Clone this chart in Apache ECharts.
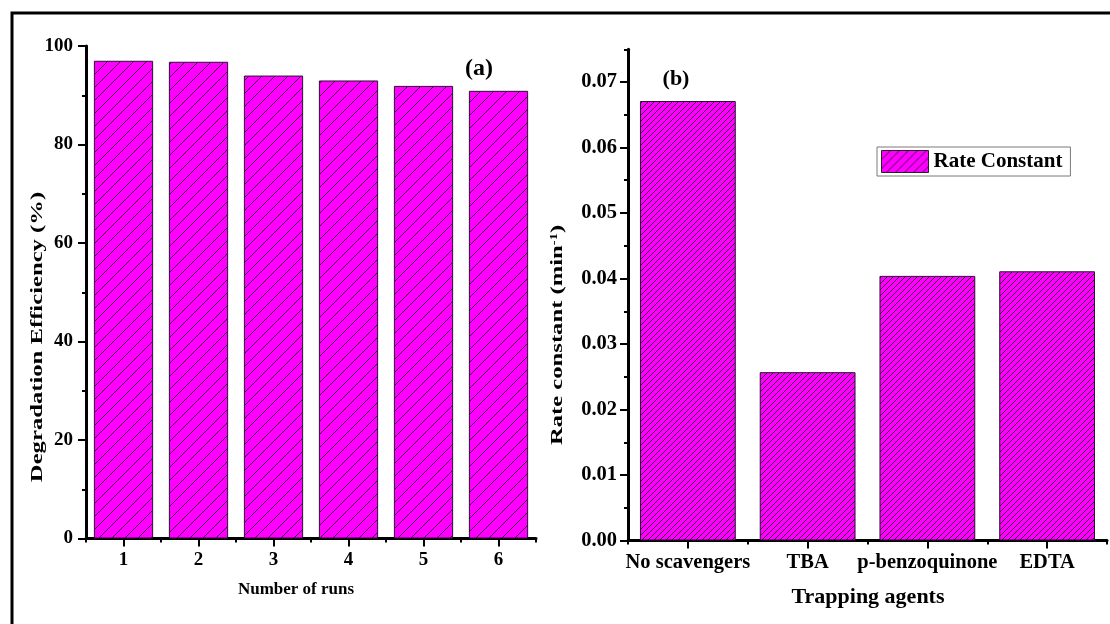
<!DOCTYPE html>
<html>
<head>
<meta charset="utf-8">
<script src="https://cdn.jsdelivr.net/npm/echarts@6/dist/echarts.min.js"></script>
<style>
  html, body { margin: 0; padding: 0; background: #fff; }
  #chart { width: 1110px; height: 624px; }
</style>
</head>
<body>
<div id="chart"></div>
<script>
// Panel (a): photocatalyst reuse cycles
const runs = ['1', '2', '3', '4', '5', '6'];
const efficiency = [97.0, 96.8, 94.0, 93.0, 91.9, 90.9];
const efficiencyTicks = [0, 20, 40, 60, 80, 100];

// Panel (b): scavenger (trapping) experiments
const agents = ['No scavengers', 'TBA', 'p-benzoquinone', 'EDTA'];
const rateConstant = [0.0671, 0.0257, 0.0404, 0.0411];
const rateTicks = [0, 0.01, 0.02, 0.03, 0.04, 0.05, 0.06, 0.07];

const FONT = 'Liberation Serif';
const MAGENTA = '#ff00ff';
const HATCH = '#3c1044';

// Diagonal "/" hatch tile on a magenta ground
function hatch(step) {
  const c = document.createElement('canvas');
  c.width = step; c.height = step;
  const g = c.getContext('2d');
  g.fillStyle = MAGENTA;
  g.fillRect(0, 0, step, step);
  g.strokeStyle = HATCH;
  g.lineWidth = 1;
  g.beginPath();
  g.moveTo(-1, 1); g.lineTo(1, -1);
  g.moveTo(0, step); g.lineTo(step, 0);
  g.moveTo(step - 1, step + 1); g.lineTo(step + 1, step - 1);
  g.stroke();
  return { image: c, repeat: 'repeat' };
}

const labelA = { fontFamily: FONT, fontWeight: 'bold', fontSize: 19, color: '#000' };
const labelB = { fontFamily: FONT, fontWeight: 'bold', fontSize: 20.5, color: '#000' };
const axisLine = { show: true, onZero: false, lineStyle: { color: '#000', width: 3 } };
const tickLine = { color: '#000', width: 2 };

const chart = echarts.init(document.getElementById('chart'), null, { renderer: 'canvas' });

chart.setOption({
  animation: false,
  backgroundColor: '#fff',
  grid: [
    { left: 86, top: 46, width: 450, height: 492.5 },
    { left: 628, top: 49.25, width: 479, height: 491.25 }
  ],
  legend: {
    left: 877, top: 147,
    padding: [3, 8, 3, 4],
    itemWidth: 47, itemHeight: 22,
    borderColor: '#7a7a7a', borderWidth: 1,
    icon: 'rect',
    textStyle: { fontFamily: FONT, fontWeight: 'bold', fontSize: 21, color: '#000' },
    data: [{ name: 'Rate Constant', itemStyle: { color: hatch(9), borderColor: '#222', borderWidth: 1 } }]
  },
  xAxis: [
    { type: 'category', gridIndex: 0, data: runs, position: 'bottom',
      axisLine: axisLine,
      axisTick: { show: true, alignWithLabel: true, length: 8, lineStyle: tickLine },
      axisLabel: Object.assign({ margin: 12 }, labelA),
      splitLine: { show: false } },
    { type: 'category', gridIndex: 0, data: runs, position: 'bottom', offset: 0,
      axisLine: { show: false },
      axisTick: { show: true, alignWithLabel: false, length: 4, lineStyle: tickLine },
      axisLabel: { show: false }, splitLine: { show: false } },
    { type: 'category', gridIndex: 1, data: agents, position: 'bottom',
      axisLine: axisLine,
      axisTick: { show: true, alignWithLabel: true, length: 8, lineStyle: tickLine },
      axisLabel: Object.assign({ margin: 12, interval: 0 }, labelB),
      splitLine: { show: false } },
    { type: 'category', gridIndex: 1, data: agents, position: 'bottom', offset: 0,
      axisLine: { show: false },
      axisTick: { show: true, alignWithLabel: false, length: 4, lineStyle: tickLine },
      axisLabel: { show: false }, splitLine: { show: false } }
  ],
  yAxis: [
    { type: 'value', gridIndex: 0, min: 0, max: 100, interval: 20, position: 'left',
      axisLine: axisLine,
      axisTick: { show: true, length: 8, lineStyle: tickLine },
      minorTick: { show: true, splitNumber: 2, length: 4, lineStyle: tickLine },
      axisLabel: Object.assign({ margin: 13, customValues: efficiencyTicks }, labelA),
      splitLine: { show: false }, minorSplitLine: { show: false } },
    { type: 'value', gridIndex: 1, min: 0, max: 0.075, interval: 0.01, position: 'left',
      axisLine: axisLine,
      axisTick: { show: true, length: 8, lineStyle: tickLine, customValues: rateTicks },
      axisLabel: Object.assign({ margin: 11, customValues: rateTicks,
        formatter: v => v.toFixed(2) }, labelB),
      splitLine: { show: false } },
    { type: 'value', gridIndex: 1, min: 0, max: 0.075, interval: 0.005, position: 'left', offset: 0,
      axisLine: { show: false },
      axisTick: { show: true, length: 4, lineStyle: tickLine },
      axisLabel: { show: false }, splitLine: { show: false } }
  ],
  series: [
    { type: 'bar', name: 'Degradation Efficiency', xAxisIndex: 0, yAxisIndex: 0,
      data: efficiency, barCategoryGap: '21%',
      itemStyle: { color: hatch(13), borderColor: '#2a1030', borderWidth: 1 } },
    { type: 'bar', name: 'Rate Constant', xAxisIndex: 2, yAxisIndex: 1,
      data: rateConstant, barCategoryGap: '20%',
      itemStyle: { color: hatch(6), borderColor: '#2a1030', borderWidth: 1 } }
  ],
  graphic: [
    { type: 'polyline', silent: true,
      shape: { points: [[12, 624], [12, 13], [1110, 13]] },
      style: { stroke: '#000', lineWidth: 3, fill: null } },
    { type: 'text', x: 479, y: 69,
      style: { text: '(a)', font: 'bold 24px "Liberation Serif"', fill: '#000',
        align: 'center', verticalAlign: 'middle' } },
    { type: 'text', x: 676, y: 79,
      style: { text: '(b)', font: 'bold 22px "Liberation Serif"', fill: '#000',
        align: 'center', verticalAlign: 'middle' } },
    { type: 'text', x: 38, y: 337, rotation: Math.PI / 2, scaleX: 1.45,
      style: { text: 'Degradation Efficiency (%)', font: 'bold 17px "Liberation Serif"',
        fill: '#000', align: 'center', verticalAlign: 'middle' } },
    { type: 'text', x: 558, y: 335, rotation: Math.PI / 2, scaleX: 1.45,
      style: { text: '{t|Rate constant (min}{s|-1}{t|)}', align: 'center', verticalAlign: 'middle',
        rich: {
          t: { font: 'bold 17px "Liberation Serif"', fill: '#000' },
          s: { font: 'bold 10px "Liberation Serif"', fill: '#000', verticalAlign: 'top', padding: [0, 0, 8, 0] }
        } } },
    { type: 'text', x: 296, y: 590,
      style: { text: 'Number of runs', font: 'bold 17px "Liberation Serif"', fill: '#000',
        align: 'center', verticalAlign: 'middle' } },
    { type: 'text', x: 868, y: 597,
      style: { text: 'Trapping agents', font: 'bold 22px "Liberation Serif"', fill: '#000',
        align: 'center', verticalAlign: 'middle' } }
  ]
});
</script>
</body>
</html>
